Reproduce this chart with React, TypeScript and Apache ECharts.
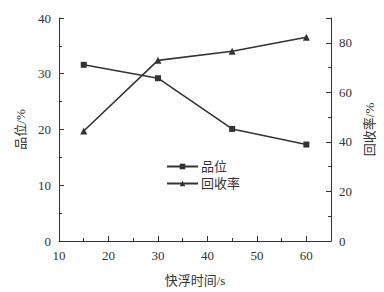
import React, { useEffect, useRef } from "react";
import * as echarts from "echarts";

const times = [15, 30, 45, 60];
const grade = [31.6, 29.2, 20.1, 17.3];
const recovery = [44.4, 72.9, 76.6, 82.2];
const seriesNames = ["品位", "回收率"];

const FONT = "'Liberation Serif', 'Times New Roman', 'Noto Sans CJK SC', serif";
const INK = "#333333";

export default function App() {
  const ref = useRef<HTMLDivElement>(null);
  useEffect(() => {
    if (!ref.current) return;
    const chart = echarts.init(ref.current, undefined, { renderer: "svg" });
    const axisCommon = {
      axisLine: { show: true, lineStyle: { color: INK, width: 1 } },
      axisTick: { show: true, inside: true, length: 5, lineStyle: { color: INK } },
      minorTick: { show: true, splitNumber: 2, length: 3, lineStyle: { color: INK } },
      splitLine: { show: false },
      axisLabel: { color: INK, fontFamily: FONT, fontSize: 13 },
      nameTextStyle: { color: INK, fontFamily: FONT, fontSize: 13 },
    };
    chart.setOption({
      animation: false,
      backgroundColor: "#ffffff",
      textStyle: { fontFamily: FONT },
      grid: { left: 59, right: 48, top: 18, bottom: 49 },
      legend: {
        orient: "vertical",
        left: 161,
        top: 155,
        itemWidth: 31,
        itemHeight: 7,
        itemGap: 4,
        textStyle: { color: INK, fontFamily: FONT, fontSize: 13, padding: [0, 0, 0, -2] },
        data: seriesNames.map((n) => ({ name: n })),
      },
      xAxis: {
        type: "value",
        min: 10,
        max: 65,
        interval: 10,
        name: "快浮时间/s",
        nameLocation: "middle",
        nameGap: 33,
        ...axisCommon,
        axisLabel: { ...axisCommon.axisLabel, showMaxLabel: false, margin: 8 },
      },
      yAxis: [
        {
          type: "value",
          min: 0,
          max: 40,
          interval: 10,
          name: "品位/%",
          nameLocation: "middle",
          nameRotate: 90,
          nameGap: 26,
          position: "left",
          ...axisCommon,
        },
        {
          type: "value",
          min: 0,
          max: 90,
          interval: 20,
          name: "回收率/%",
          nameLocation: "middle",
          nameRotate: 90,
          nameGap: 28,
          position: "right",
          ...axisCommon,
          axisLabel: { ...axisCommon.axisLabel, showMaxLabel: false },
        },
      ],
      series: [
        {
          name: seriesNames[0],
          type: "line",
          yAxisIndex: 0,
          data: times.map((t, i) => [t, grade[i]]),
          symbol: "rect",
          symbolSize: 6,
          itemStyle: { color: INK },
          lineStyle: { color: INK, width: 1.6 },
        },
        {
          name: seriesNames[1],
          type: "line",
          yAxisIndex: 1,
          data: times.map((t, i) => [t, recovery[i]]),
          symbol: "triangle",
          symbolSize: 7,
          itemStyle: { color: INK },
          lineStyle: { color: INK, width: 1.6 },
        },
      ],
    });
    return () => chart.dispose();
  }, []);
  return <div ref={ref} style={{ width: 384, height: 292, position: "absolute", left: 0, top: 0 }} />;
}
